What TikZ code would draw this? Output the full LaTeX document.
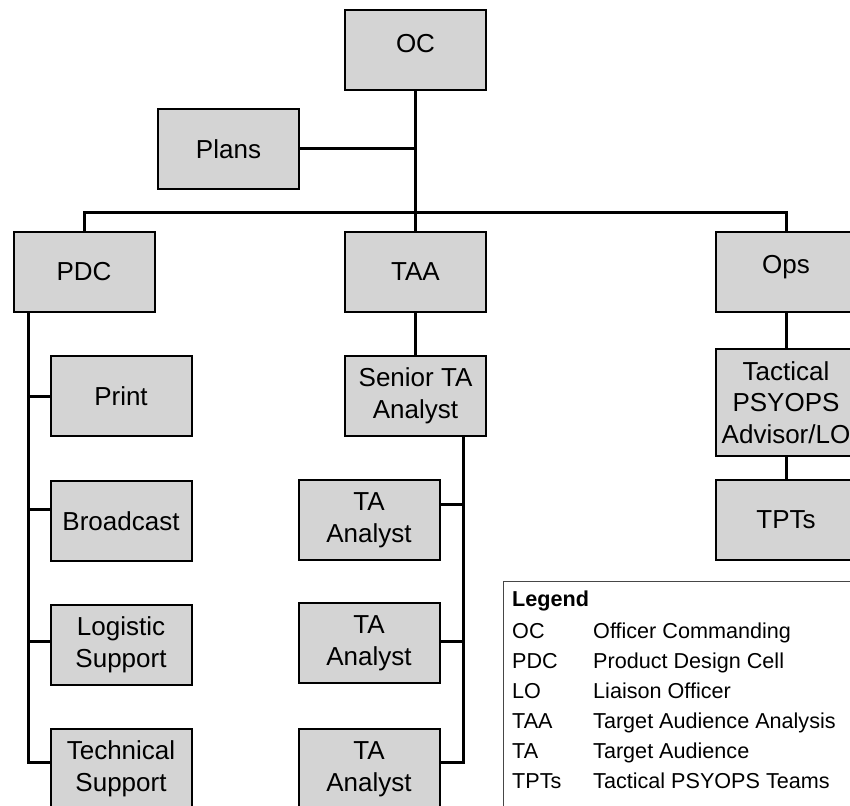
\documentclass[tikz,border=0pt]{standalone}
\usepackage{fontspec}
\setmainfont{Liberation Sans}
\definecolor{boxgray}{RGB}{212,212,212}
\definecolor{legendline}{RGB}{70,70,70}
\tikzset{
    unit/.style={draw, fill=boxgray, line width=2pt, minimum width=141pt, minimum height=80pt,
        inner sep=0pt, align=center, font=\fontsize{26}{31.5}\selectfont},
    link/.style={line width=3pt},
    legendtext/.style={anchor=base west, inner sep=0pt, font=\fontsize{21.6}{25}\selectfont}
}

\begin{document}
\begin{tikzpicture} [x=1pt, y=-1pt]
        \useasboundingbox (0, 0) rectangle (850, 805);
        \node[unit, text depth=14pt] (oc) at (415.5, 50) {OC};
        \node[unit] (plans) at (228.5, 149) {Plans};
        \node[unit] (pdc) at (84, 271.5) {PDC};
        \node[unit] (taa) at (415.5, 271.5) {TAA};
        \node[unit, text depth=15pt] (ops) at (786, 271.5) {Ops};
        \node[unit] (print) at (121, 396) {Print};
        \node[unit] (broadcast) at (121, 521) {Broadcast};
        \node[unit] (logistic) at (121, 645) {Logistic\\Support};
        \node[unit] (technical) at (121, 769) {Technical\\Support};
        \node[unit] (senior) at (415.5, 396) {Senior TA\\Analyst};
        \node[unit] (ta1) at (369, 520) {TA\\Analyst};
        \node[unit] (ta2) at (369, 643) {TA\\Analyst};
        \node[unit] (ta3) at (369, 769) {TA\\Analyst};
        \node[unit, minimum height=107pt] (tactical) at (786, 402.5) {Tactical\\PSYOPS\\Advisor/LO};
        \node[unit] (tpts) at (786, 520) {TPTs};

        \draw[link] (oc.south) -- (taa.north);
        \draw[link] (plans.east) -- (oc.south |- plans.east);
        \coordinate (bus) at (415.5, 212);
        \draw[link] (pdc.north) -- (pdc.north |- bus) -- (ops.north |- bus) -- (ops.north);
        \draw[link] (taa.south) -- (senior.north);
        \draw[link] (ops.south) -- (tactical.north);
        \draw[link] (tactical.south) -- (tpts.north);

        \coordinate (pdcbus) at ([xshift=16pt]pdc.south west);
        \coordinate (printc) at (print.west);
        \coordinate (bcastc) at ([yshift=12pt]broadcast.west);
        \coordinate (logc) at ([yshift=4pt]logistic.west);
        \coordinate (techc) at ([yshift=7pt]technical.west);
        \draw[link] (pdcbus) |- (techc);
        \foreach \p in {printc, bcastc, logc}
            \draw[link] (\p) -- (pdcbus |- \p);

        \coordinate (tabus) at ([xshift=-24pt]senior.south east);
        \coordinate (ta1c) at ([yshift=16pt]ta1.east);
        \coordinate (ta2c) at ([yshift=2pt]ta2.east);
        \coordinate (ta3c) at ([yshift=7pt]ta3.east);
        \draw[link] (tabus) |- (ta3c);
        \foreach \p in {ta1c, ta2c}
            \draw[link] (\p) -- (tabus |- \p);

        \draw[legendline, line width=1pt] (503, 581) rectangle (880, 830);
        \node[legendtext, font=\fontsize{21.6}{25}\selectfont\bfseries] (legend) at (512, 606) {Legend};
        \foreach \abbr/\full [count=\i] in {OC/Officer Commanding, PDC/Product Design Cell,
            LO/Liaison Officer, TAA/Target Audience Analysis, TA/Target Audience,
            TPTs/Tactical PSYOPS Teams} {
            \node[legendtext] (abbr\i) at (512, 608+30*\i) {\abbr};
            \node[legendtext] (full\i) at (593, 608+30*\i) {\full};
        }
    \end{tikzpicture}
\end{document}
